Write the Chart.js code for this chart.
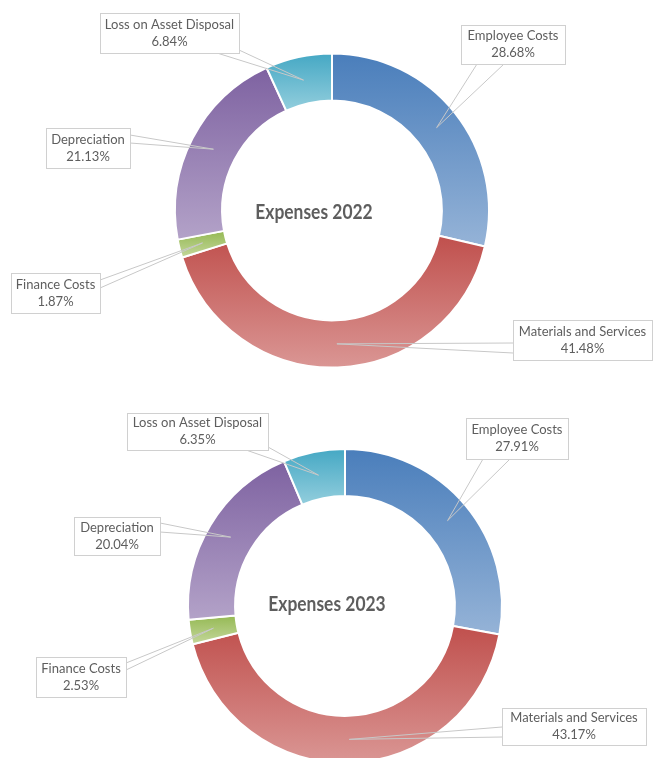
<!DOCTYPE html>
<html>
<head>
<meta charset="utf-8">
<script src="https://cdn.jsdelivr.net/npm/chart.js@4.4.1/dist/chart.umd.min.js"></script>
<style>
  html, body { margin: 0; padding: 0; background: #fff; width: 654px; height: 758px; overflow: hidden; }
  .wrap { position: absolute; left: 0; width: 654px; }
  #w2022 { top: 0; height: 379px; }
  #w2023 { top: 379px; height: 400px; }
</style>
</head>
<body>
<div class="wrap" id="w2022"><canvas id="chart2022"></canvas></div>
<div class="wrap" id="w2023"><canvas id="chart2023"></canvas></div>
<script>
// expense categories and their share of total (%)
const categories = ['Employee Costs', 'Materials and Services', 'Finance Costs', 'Depreciation', 'Loss on Asset Disposal'];
const expenses2022 = [28.68, 41.48, 1.87, 21.13, 6.84];
const expenses2023 = [27.91, 43.17, 2.53, 20.04, 6.35];

// gradient colours per slice: dark at the top, light at the bottom
const topColors = ['#4A7EBB', '#C0504D', '#95B954', '#7E62A1', '#45A8C4'];
const bottomColors = ['#95B3D7', '#DA9694', '#C4D79B', '#B3A2C8', '#93CEDD'];

const TEXT_COLOR = '#5E5E5E';
const LINE_COLOR = '#C8C8C8';
const BOX_BORDER = '#D0D0D0';
const LABEL_FONT = '13px Lato';
const TITLE_FONT = 'bold 21.5px Lato';
const TITLE_SQUEEZE = 0.81;   // narrow the title a bit horizontally

// callout boxes [x, y, w, h] and the two points where the pointer leaves the box
const callouts2022 = [
  { box: [461, 25, 104, 39], base: [[477, 64], [504, 64]] },
  { box: [513, 320, 139, 40], base: [[513, 343], [513, 353]] },
  { box: [11, 273, 89, 40], base: [[100, 280], [100, 288]] },
  { box: [46, 128, 84, 40], base: [[130, 135], [130, 143]] },
  { box: [100, 13, 139, 40], base: [[217, 53], [239, 50]] }
];
const callouts2023 = [
  { box: [466, 39, 102, 41], base: [[483, 80], [510, 80]] },
  { box: [502, 329, 144, 37], base: [[502, 348], [502, 358]] },
  { box: [36, 278, 90, 40], base: [[126, 284], [126, 291]] },
  { box: [74, 138, 86, 38], base: [[160, 144], [160, 153]] },
  { box: [127, 34, 141, 37], base: [[246, 71], [268, 68]] }
];

// vertical bounds of an arc sector, found by sampling its edges
function arcBounds(a) {
  let minY = Infinity, maxY = -Infinity;
  const steps = 40;
  for (let i = 0; i <= steps; i++) {
    const ang = a.startAngle + (a.endAngle - a.startAngle) * i / steps;
    for (const r of [a.innerRadius, a.outerRadius]) {
      const y = a.y + Math.sin(ang) * r;
      if (y < minY) minY = y;
      if (y > maxY) maxY = y;
    }
  }
  return [minY, maxY];
}

const sliceGradient = {
  id: 'sliceGradient',
  beforeDatasetDraw(chart, args) {
    const ctx = chart.ctx;
    args.meta.data.forEach((arc, i) => {
      const [y0, y1] = arcBounds(arc);
      const g = ctx.createLinearGradient(0, y0, 0, y1);
      g.addColorStop(0, topColors[i]);
      g.addColorStop(1, bottomColors[i]);
      arc.options.backgroundColor = g;
    });
  }
};

const calloutLabels = {
  id: 'calloutLabels',
  afterDatasetsDraw(chart, args, opts) {
    const ctx = chart.ctx;
    const meta = chart.getDatasetMeta(0);
    const values = chart.data.datasets[0].data;
    ctx.save();
    // pointer lines
    meta.data.forEach((arc, i) => {
      const tip = arc.getCenterPoint();
      const c = opts.layout[i];
      ctx.strokeStyle = LINE_COLOR;
      ctx.lineWidth = 1;
      ctx.beginPath();
      ctx.moveTo(c.base[0][0], c.base[0][1]);
      ctx.lineTo(tip.x, tip.y);
      ctx.lineTo(c.base[1][0], c.base[1][1]);
      ctx.stroke();
    });
    // boxes and text
    meta.data.forEach((arc, i) => {
      const [x, y, w, h] = opts.layout[i].box;
      ctx.fillStyle = '#fff';
      ctx.fillRect(x, y, w, h);
      ctx.strokeStyle = BOX_BORDER;
      ctx.strokeRect(x + 0.5, y + 0.5, w, h);
      ctx.fillStyle = TEXT_COLOR;
      ctx.font = LABEL_FONT;
      ctx.textAlign = 'center';
      ctx.textBaseline = 'middle';
      const cx = x + w / 2, cy = y + h / 2;
      ctx.fillText(chart.data.labels[i], cx, cy - 8.5);
      ctx.fillText(values[i].toFixed(2) + '%', cx, cy + 8.5);
    });
    // centre title
    ctx.translate(opts.titlePos[0], opts.titlePos[1]);
    ctx.scale(TITLE_SQUEEZE, 1);
    ctx.font = TITLE_FONT;
    ctx.fillStyle = TEXT_COLOR;
    ctx.textAlign = 'center';
    ctx.textBaseline = 'middle';
    ctx.fillText(opts.title, 0, 0);
    ctx.restore();
  }
};

function makeDoughnut(id, values, layout, title, titlePos, padding, radius) {
  return new Chart(document.getElementById(id), {
    type: 'doughnut',
    data: {
      labels: categories,
      datasets: [{
        data: values,
        backgroundColor: topColors,
        borderColor: '#ffffff',
        borderWidth: 2
      }]
    },
    options: {
      responsive: true,
      maintainAspectRatio: false,
      animation: false,
      radius: radius,
      cutout: '70%',
      layout: { padding: padding },
      plugins: {
        legend: { display: false },
        tooltip: { enabled: false },
        calloutLabels: { layout: layout, title: title, titlePos: titlePos }
      }
    },
    plugins: [sliceGradient, calloutLabels]
  });
}

makeDoughnut('chart2022', expenses2022, callouts2022, 'Expenses 2022', [314, 212],
  { left: 170, right: 160, top: 45, bottom: 3 }, 157);
makeDoughnut('chart2023', expenses2023, callouts2023, 'Expenses 2023', [327, 225],
  { left: 190, right: 154, top: 57, bottom: 3 }, 157);
</script>
</body>
</html>
